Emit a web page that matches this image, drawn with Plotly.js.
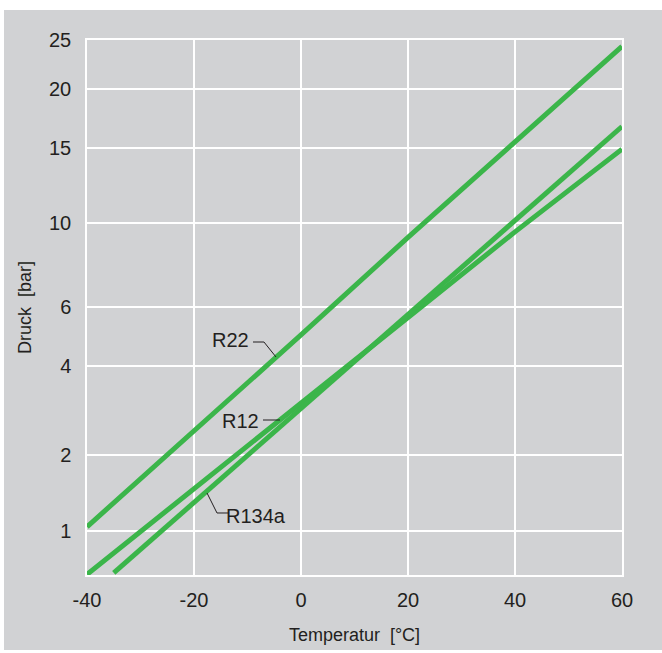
<!DOCTYPE html>
<html>
<head>
<meta charset="utf-8">
<script src="https://cdn.plot.ly/plotly-3.0.1.min.js"></script>
<style>
  html, body { margin: 0; padding: 0; background: #ffffff; width: 662px; height: 653px; overflow: hidden; }
  #chart { position: absolute; left: 4px; top: 10px; width: 658px; height: 640px; }
</style>
</head>
<body>
<div id="chart"></div>
<script>
// Data (temperature in °C, pressure in bar)
const tempR22   = [-40, -20, 0, 20, 40, 60];
const pressR22  = [1.04, 2.43, 4.97, 9.2, 15.4, 24.3];
const tempR12   = [-40, -20, 0, 20, 40, 60];
const pressR12  = [0.64, 1.49, 3.04, 5.6, 9.5, 14.9];
const tempR134a = [-35, -20, 0, 20, 40, 60];
const pressR134a= [0.65, 1.31, 2.92, 5.71, 10.17, 16.7];

const yTickValues = [1, 2, 4, 6, 10, 15, 20, 25];
const xTickValues = [-40, -20, 0, 20, 40, 60];
const xTickLabels = ['-40', '-20', '0', '20', '40', '60'];

// The chart's pressure axis is a vapour-pressure scale (position ∝ -1/(A - ln p)),
// so that saturation curves become straight lines.
const A = 9.74;
function pScale(p) { return -1 / (A - Math.log(p)); }

const FONT = '"Liberation Sans", Arial, Helvetica, sans-serif';
const GREEN = '#3bb54a';
const GRAY = '#d1d2d4';
const TXT = '#231f20';

function trace(t, p, name) {
  return { x: t, y: p.map(pScale), customdata: p, type: 'scatter', mode: 'lines', name: name,
           line: { color: GREEN, width: 5 }, hovertemplate: name + ': %{x} °C, %{customdata} bar<extra></extra>' };
}

const data = [
  trace(tempR22, pressR22, 'R22'),
  trace(tempR12, pressR12, 'R12'),
  trace(tempR134a, pressR134a, 'R134a')
];

const layout = {
  width: 658, height: 640,
  margin: { l: 83, r: 40, t: 30, b: 75 },
  paper_bgcolor: GRAY, plot_bgcolor: GRAY,
  showlegend: false,
  font: { family: FONT, color: TXT, size: 20 },
  xaxis: {
    range: [-40, 60], tickvals: xTickValues, ticktext: xTickLabels, ticks: '', showgrid: true,
    gridcolor: '#ffffff', gridwidth: 1.5, zeroline: false,
    showline: true, linecolor: '#ffffff', linewidth: 1.5, mirror: true,
    tickfont: { family: FONT, size: 20, color: TXT }, ticklabelstandoff: 6,
    title: { text: 'Temperatur  [°C]', font: { family: FONT, size: 18, color: TXT }, standoff: 19 }
  },
  yaxis: {
    range: [pScale(0.636), pScale(25)], tickvals: yTickValues.map(pScale),
    ticktext: yTickValues.map(String), ticks: '', showgrid: true,
    gridcolor: '#ffffff', gridwidth: 1.5, zeroline: false,
    showline: true, linecolor: '#ffffff', linewidth: 1.5, mirror: true,
    tickfont: { family: FONT, size: 20, color: TXT }, ticklabelstandoff: 10,
    title: { text: 'Druck  [bar]', font: { family: FONT, size: 18, color: TXT }, standoff: 13 }
  },
  annotations: [
    { text: 'R22', xref: 'paper', yref: 'paper', x: 0.2673, y: 0.4393, showarrow: false, xanchor: 'center', yanchor: 'middle', font: { family: FONT, size: 20, color: TXT } },
    { text: 'R12', xref: 'paper', yref: 'paper', x: 0.286, y: 0.2879, showarrow: false, xanchor: 'center', yanchor: 'middle', font: { family: FONT, size: 20, color: TXT } },
    { text: 'R134a', xref: 'paper', yref: 'paper', x: 0.316, y: 0.1103, showarrow: false, xanchor: 'center', yanchor: 'middle', font: { family: FONT, size: 20, color: TXT } }
  ],
  shapes: [
    { type: 'path', xref: 'paper', yref: 'paper', path: 'M0.3103,0.4355 L0.3308,0.4355 L0.3533,0.4075', line: { color: TXT, width: 1 } },
    { type: 'path', xref: 'paper', yref: 'paper', path: 'M0.329,0.2897 L0.3607,0.2897', line: { color: TXT, width: 1 } },
    { type: 'path', xref: 'paper', yref: 'paper', path: 'M0.2243,0.1533 L0.243,0.1159 L0.2636,0.1159', line: { color: TXT, width: 1 } }
  ]
};

Plotly.newPlot('chart', data, layout, { displayModeBar: false });
</script>
</body>
</html>
